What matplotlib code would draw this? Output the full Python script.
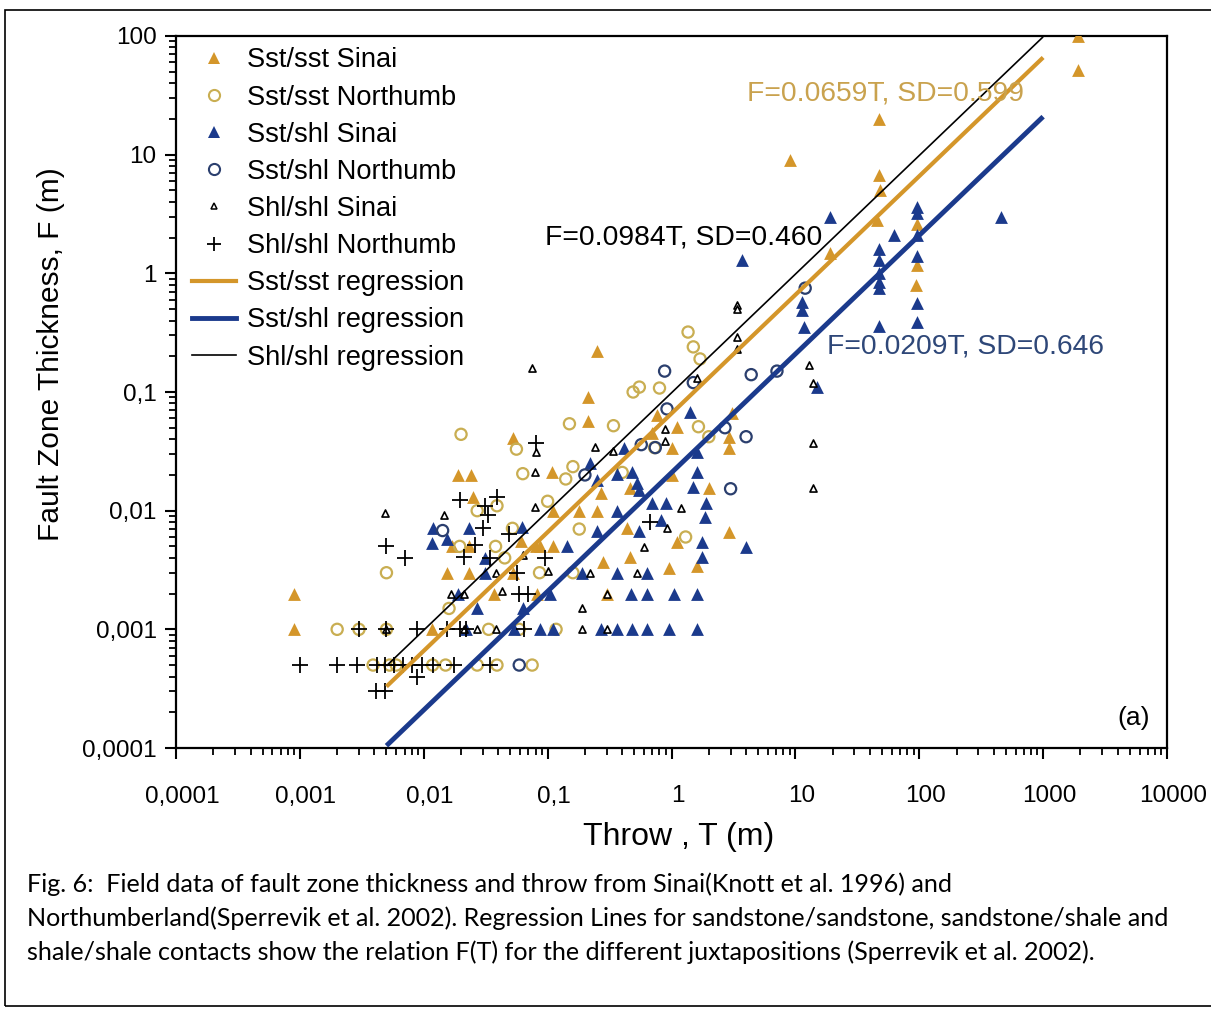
import matplotlib
matplotlib.use("Agg")
import numpy as np
import matplotlib.pyplot as plt
import matplotlib.transforms as mtransforms
from matplotlib.lines import Line2D
from matplotlib.patches import Rectangle
from matplotlib.ticker import FixedLocator, FixedFormatter, LogLocator, NullFormatter

plt.rcParams['font.family'] = ['Liberation Sans', 'DejaVu Sans']

# ---- data: (throw T [m], fault zone thickness F [m]) ----
sst_sst_sinai = [
    (0.0009, 0.002), (0.0009, 0.001), (0.0116, 0.001), (0.0155, 0.003), (0.023, 0.003),
    (0.017, 0.005), (0.023, 0.005), (0.019, 0.02), (0.024, 0.02), (0.025, 0.013),
    (0.053, 0.041), (0.053, 0.003), (0.037, 0.002), (0.061, 0.0056), (0.08, 0.005),
    (0.082, 0.002), (0.11, 0.005), (0.108, 0.021), (0.11, 0.01), (0.18, 0.01),
    (0.25, 0.01), (0.27, 0.014), (0.28, 0.0037), (0.25, 0.22), (0.21, 0.09),
    (0.21, 0.057), (0.086, 0.005), (0.46, 0.0155), (0.44, 0.0071), (0.46, 0.0041),
    (0.3, 0.002), (0.77, 0.064), (1.1, 0.051), (0.7, 0.045), (1.0, 0.034),
    (1.0, 0.02), (2.0, 0.0155), (1.1, 0.0054), (0.95, 0.0033), (1.6, 0.0034),
    (2.9, 0.0066), (3.1, 0.066), (2.9, 0.042), (2.9, 0.034), (19, 1.48),
    (9, 9), (47, 20), (47, 6.7), (48, 5), (46, 2.8), (96, 2.6), (96, 1.17),
    (95, 0.79), (1900, 100), (1900, 52),
]
sst_sst_north = [
    (0.002, 0.001), (0.003, 0.001), (0.005, 0.001), (0.005, 0.003), (0.02, 0.044),
    (0.056, 0.033), (0.063, 0.0205), (0.15, 0.054), (0.16, 0.0235), (0.14, 0.0185),
    (0.039, 0.011), (0.027, 0.01), (0.0195, 0.005), (0.038, 0.005), (0.052, 0.0071),
    (0.045, 0.004), (0.086, 0.003), (0.16, 0.003), (0.18, 0.007), (0.1, 0.012),
    (0.016, 0.0015), (0.0334, 0.001), (0.059, 0.001), (0.117, 0.001),
    (0.0039, 0.0005), (0.0053, 0.0005), (0.006, 0.0005), (0.0118, 0.0005), (0.015, 0.0005),
    (0.027, 0.0005), (0.039, 0.0005), (0.075, 0.0005), (0.34, 0.052), (1.36, 0.32),
    (1.5, 0.24), (1.7, 0.19), (0.49, 0.1), (0.55, 0.11), (0.8, 0.108),
    (1.65, 0.051), (2.0, 0.042), (0.4, 0.021), (1.3, 0.006), (0.73, 0.034),
]
sst_shl_sinai = [
    (19, 3.0), (3.7, 1.3), (460, 3.0), (96, 3.6), (96, 3.2), (63, 2.1), (96, 2.1),
    (47, 1.6), (47, 1.3), (96, 1.4), (47, 1.0), (47, 0.85), (47, 0.75), (96, 0.56),
    (96, 0.39), (47, 0.36), (11.3, 0.57), (11.3, 0.49), (11.7, 0.35), (15, 0.11),
    (1.4, 0.068), (0.41, 0.034), (1.6, 0.031), (0.36, 0.0205), (0.48, 0.021),
    (1.6, 0.021), (0.55, 0.0148), (0.53, 0.017), (1.5, 0.0158), (0.36, 0.01),
    (0.7, 0.0115), (0.9, 0.0115), (1.9, 0.0115), (1.85, 0.0089), (0.82, 0.0083),
    (0.55, 0.0068), (1.75, 0.0054), (1.75, 0.0041), (4.0, 0.0049), (0.36, 0.003),
    (0.64, 0.003), (0.47, 0.002), (0.63, 0.002), (1.05, 0.002), (1.6, 0.002),
    (0.48, 0.001), (0.64, 0.001), (0.95, 0.001), (1.6, 0.001), (0.22, 0.025),
    (0.25, 0.0182), (0.0118, 0.0071), (0.0116, 0.0053), (0.0155, 0.0058), (0.023, 0.0071),
    (0.062, 0.0073), (0.031, 0.004), (0.031, 0.003), (0.019, 0.002), (0.027, 0.0015),
    (0.063, 0.0015), (0.144, 0.005), (0.25, 0.0068), (0.19, 0.003), (0.104, 0.002),
    (0.022, 0.001), (0.054, 0.001), (0.087, 0.001), (0.11, 0.001), (0.27, 0.001),
    (0.36, 0.001),
]
sst_shl_north = [
    (0.0142, 0.0068), (0.2, 0.02), (0.88, 0.15), (4.4, 0.14), (7.1, 0.15),
    (0.92, 0.072), (0.57, 0.036), (2.7, 0.05), (4.0, 0.042), (3.0, 0.0153),
    (12, 0.75), (1.5, 0.12), (0.74, 0.034), (0.059, 0.0005),
]
shl_shl_sinai = [
    (0.0049, 0.0095), (0.0145, 0.0092), (0.08, 0.031), (0.079, 0.0212), (0.079, 0.0107),
    (0.24, 0.0345), (0.063, 0.0042), (0.038, 0.003), (0.1, 0.0031), (0.22, 0.003),
    (0.0165, 0.002), (0.021, 0.002), (0.043, 0.0021), (0.19, 0.0015), (0.19, 0.001),
    (0.005, 0.001), (0.021, 0.001), (0.027, 0.001), (0.038, 0.001), (0.075, 0.16),
    (0.34, 0.032), (0.3, 0.001), (0.3, 0.002), (3.4, 0.54), (3.4, 0.5),
    (3.4, 0.29), (3.4, 0.23), (13, 0.17), (14, 0.12), (1.6, 0.13), (0.88, 0.049),
    (0.88, 0.039), (1.2, 0.0105), (0.92, 0.0071), (0.6, 0.0049), (0.53, 0.003),
    (14, 0.037), (14, 0.0155),
]
shl_shl_north = [
    (0.001, 0.0005), (0.002, 0.0005), (0.0029, 0.0005), (0.0042, 0.0005), (0.0049, 0.0005),
    (0.0058, 0.0005), (0.0068, 0.0005), (0.008, 0.0005), (0.0096, 0.0005), (0.0118, 0.0005),
    (0.0177, 0.0005), (0.034, 0.0005), (0.0041, 0.0003), (0.0049, 0.0003), (0.0089, 0.0004),
    (0.003, 0.001), (0.005, 0.001), (0.0088, 0.001), (0.0155, 0.001), (0.0195, 0.001),
    (0.022, 0.001), (0.065, 0.001), (0.005, 0.005), (0.007, 0.004), (0.0195, 0.0123),
    (0.031, 0.0109), (0.033, 0.0092), (0.039, 0.0131), (0.03, 0.0071), (0.026, 0.0051),
    (0.021, 0.0041), (0.049, 0.0063), (0.08, 0.037), (0.057, 0.003), (0.059, 0.002),
    (0.069, 0.002), (0.095, 0.004), (0.034, 0.004), (0.67, 0.0081),
]

reg_names = ["Sst/sst regression", "Sst/shl regression", "Shl/shl regression"]
reg_coef = [0.0659, 0.0209, 0.0984]
reg_sd = [0.599, 0.646, 0.460]
reg_T_range = [0.005, 1000]

x_ticks = [1e-4, 1e-3, 1e-2, 1e-1, 1, 10, 100, 1000, 10000]
x_ticklabels = ["0,0001", "0,001", "0,01", "0,1", "1", "10", "100", "1000", "10000"]
y_ticks = [1e-4, 1e-3, 1e-2, 1e-1, 1, 10, 100]
y_ticklabels = ["0,0001", "0,001", "0,01", "0,1", "1", "10", "100"]

ORANGE = "#D4962A"
GOLD = "#C9AE52"
BLUE = "#1B3A8C"
NAVY = "#2B3F6E"

fig = plt.figure(figsize=(12.11, 10.14), dpi=100)
ax = fig.add_axes([176 / 1211, 1 - 748 / 1014, (1167 - 176) / 1211, (748 - 36) / 1014])
ax.set_xscale("log")
ax.set_yscale("log")
ax.set_xlim(1e-4, 1e4)
ax.set_ylim(1e-4, 100)


def xy(pts):
    a = np.array(pts)
    return a[:, 0], a[:, 1]


t, f = xy(sst_sst_sinai)
ax.scatter(t, f, marker="^", s=85, color=ORANGE, linewidths=0, zorder=3)
t, f = xy(sst_sst_north)
ax.scatter(t, f, marker="o", s=65, facecolors="none", edgecolors=GOLD, linewidths=1.6, zorder=3)
t, f = xy(sst_shl_sinai)
ax.scatter(t, f, marker="^", s=85, color=BLUE, linewidths=0, zorder=3)
t, f = xy(sst_shl_north)
ax.scatter(t, f, marker="o", s=65, facecolors="none", edgecolors=NAVY, linewidths=1.6, zorder=3)
t, f = xy(shl_shl_sinai)
ax.scatter(t, f, marker="^", s=26, facecolors="white", edgecolors="black", linewidths=1.2, zorder=4)
t, f = xy(shl_shl_north)
ax.scatter(t, f, marker="+", s=120, color="black", linewidths=1.3, zorder=4)

# regression lines
T = np.array(reg_T_range)
reg_styles = [(ORANGE, 3.0), (BLUE, 3.5), ("black", 1.2)]
for a, (c, lw) in zip(reg_coef, reg_styles):
    ax.plot(T, a * T, color=c, lw=lw, zorder=5, solid_capstyle="butt")

ax.text(4.1, 33, f"F={reg_coef[0]}T, SD={reg_sd[0]}", color="#C9A24E", fontsize=20.3, va="center", zorder=6)
ax.text(0.0946, 2.02, f"F={reg_coef[2]}T, SD={reg_sd[2]:.3f}", color="black", fontsize=20.3, va="center", zorder=6)
ax.text(18.1, 0.244, f"F={reg_coef[1]}T, SD={reg_sd[1]}", color="#2E4778", fontsize=20.3, va="center", zorder=6)
ax.text(0.983, 0.042, "(a)", transform=ax.transAxes, ha="right", va="center", fontsize=19)

# ticks
ax.xaxis.set_major_locator(FixedLocator(x_ticks))
ax.xaxis.set_major_formatter(FixedFormatter(x_ticklabels))
ax.yaxis.set_major_locator(FixedLocator(y_ticks))
ax.yaxis.set_major_formatter(FixedFormatter(y_ticklabels))
ax.xaxis.set_minor_locator(LogLocator(base=10, subs=np.arange(2, 10), numticks=20))
ax.yaxis.set_minor_locator(LogLocator(base=10, subs=np.arange(2, 10), numticks=20))
ax.xaxis.set_minor_formatter(NullFormatter())
ax.yaxis.set_minor_formatter(NullFormatter())
ax.tick_params(which="major", direction="out", length=8, width=1.5, labelsize=17.5, pad=19)
ax.tick_params(which="minor", direction="out", length=5, width=1.3)
ax.tick_params(axis="y", which="major", pad=6)
ax.tick_params(top=False, right=False)
for sp in ax.spines.values():
    sp.set_linewidth(1.6)

shift = mtransforms.ScaledTranslation(6 / 100, 0, fig.dpi_scale_trans)
for lab in ax.get_xticklabels():
    lab.set_transform(lab.get_transform() + shift)

ax.set_xlabel("Throw , T (m)", fontsize=23)
ax.xaxis.set_label_coords(0.507, -0.104)
ax.set_ylabel("Fault Zone Thickness, F (m)", fontsize=21.5)
ax.yaxis.set_label_coords(-0.112, 0.553)

# legend
handles = [
    Line2D([], [], ls="none", marker="^", ms=8, color=ORANGE, mew=0),
    Line2D([], [], ls="none", marker="o", ms=8, mfc="none", mec=GOLD, mew=1.5),
    Line2D([], [], ls="none", marker="^", ms=8, color=BLUE, mew=0),
    Line2D([], [], ls="none", marker="o", ms=8, mfc="none", mec=NAVY, mew=1.5),
    Line2D([], [], ls="none", marker="^", ms=5, mfc="white", mec="black", mew=1.1),
    Line2D([], [], ls="none", marker="+", ms=10, color="black", mew=1.3),
    Line2D([], [], color=ORANGE, lw=3.0),
    Line2D([], [], color=BLUE, lw=3.5),
    Line2D([], [], color="black", lw=1.2),
]
labels = ["Sst/sst Sinai", "Sst/sst Northumb", "Sst/shl Sinai", "Sst/shl Northumb",
          "Shl/shl Sinai", "Shl/shl Northumb"] + reg_names
ax.legend(handles, labels, loc="upper left", bbox_to_anchor=(0.0, 1.007), frameon=False,
          fontsize=19.6, handlelength=1.6, handletextpad=0.4, labelspacing=0.41, borderaxespad=0.2)

# outer frame and caption
fig.patches.append(Rectangle((5 / 1211, 1 - 1006 / 1014), 1.2, (1006 - 10) / 1014,
                             transform=fig.transFigure, fill=False, edgecolor="black", lw=1.2))
caption = [
    "Fig. 6:  Field data of fault zone thickness and throw from Sinai(Knott et al. 1996) and",
    "Northumberland(Sperrevik et al. 2002). Regression Lines for sandstone/sandstone, sandstone/shale and",
    "shale/shale contacts show the relation F(T) for the different juxtapositions (Sperrevik et al. 2002).",
]
for i, line in enumerate(caption):
    fig.text(27 / 1211, 1 - (884 + 34 * i) / 1014, line, fontsize=18.1, family="Lato", va="center")

fig.savefig("out.png", dpi=100)
